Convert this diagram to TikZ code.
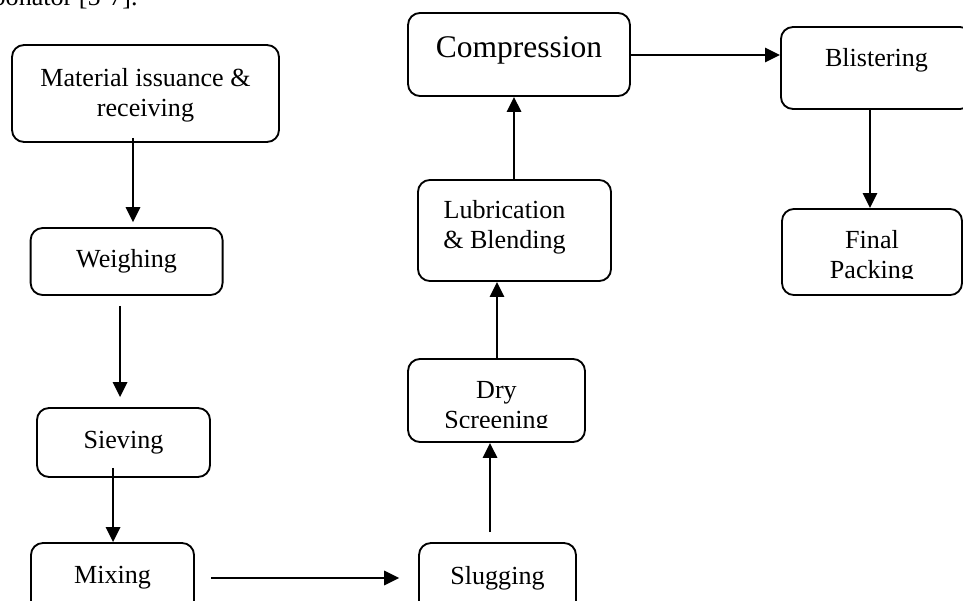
\documentclass[tikz,border=0pt]{standalone}
\usepackage{fontspec}
\setmainfont{Liberation Serif}
\usetikzlibrary{arrows.meta}
\begin{document}
\begin{tikzpicture}[x=0.46pt,y=-0.46pt,
  box/.style={draw, line width=0.85pt, rounded corners=5.5pt, inner sep=0pt, align=center, font=\fontsize{12}{13.8}\selectfont},
  lbl/.style={inner sep=0pt, align=center, font=\fontsize{12}{13.8}\selectfont},
  flow/.style={line width=1pt, -{Triangle[length=6.9pt,width=6.6pt]}}]
\useasboundingbox (0,0) rectangle (963,601);
\clip (0,0) rectangle (963,601);

% cut-off text line of the page above
\node[lbl, anchor=base east] (cut) at (138,5.5) {bonator [5-7].};

% boxes
\node[box, minimum width=122.8pt, minimum height=44.6pt] (mat) at (145.5,93.5) {};
\node[box, minimum width=88.3pt, minimum height=30.8pt] (weigh) at (126.6,261.5) {Weighing};
\node[box, minimum width=79.6pt, minimum height=31.7pt] (siev) at (123.5,442.5) {Sieving};
\node[box, minimum width=75pt, minimum height=32.2pt] (mix) at (112.5,578) {Mixing};
\node[box, minimum width=72.2pt, minimum height=32.2pt] (slug) at (497.5,578) {Slugging};
\node[box, minimum width=81.4pt, minimum height=38.2pt] (dry) at (496.5,400.5) {};
\node[box, minimum width=88.8pt, minimum height=46.5pt] (lub) at (514.5,230.5) {};
\node[box, minimum width=102.1pt, minimum height=38.2pt] (comp) at (519,54.5) {};
\node[box, minimum width=87.9pt, minimum height=37.7pt] (blis) at (876.5,68) {};
\node[box, minimum width=82.8pt, minimum height=39.6pt] (fin) at (872,252) {};

% box texts
\node[lbl] (matT) at ([yshift=-1pt]mat.center) {Material issuance \&\\receiving};
\node[lbl, font=\fontsize{14.5}{16}\selectfont] (compT) at ([yshift=1.8pt]comp.center) {Compression};
\node[lbl] (blisT) at ([yshift=3.7pt]blis.center) {Blistering};
\node[lbl] (lubT) at ([xshift=-4.6pt,yshift=1.4pt]lub.center) {Lubrication\\\& Blending};
\begin{scope}
  \clip (400,350) rectangle (600,427);
  \node[lbl] (dryT) at ([yshift=-3.5pt]dry.center) {Dry\\Screening};
\end{scope}
\begin{scope}
  \clip (770,200) rectangle (970,278);
  \node[lbl] (finT) at ([yshift=-2.3pt]fin.center) {Final\\Packing};
\end{scope}

% connectors
\draw[flow, shorten <=-2.3pt, shorten >=2.3pt] ([xshift=-5.75pt]mat.south) -- ([xshift=-5.75pt]mat.south |- weigh.north);
\draw[flow, shorten <=4.6pt, shorten >=4.6pt] ([xshift=-3pt]weigh.south) -- ([xshift=-3pt]weigh.south |- siev.north);
\draw[flow, shorten <=-4.6pt] ([xshift=-4.8pt]siev.south) -- ([xshift=-4.8pt]siev.south |- mix.north);
\draw[flow, shorten <=7.4pt, shorten >=8.7pt] (mix.east) -- (slug.west);
\draw[flow, shorten <=4.6pt] ([xshift=-3.45pt]slug.north) -- ([xshift=-3.45pt]slug.north |- dry.south);
\draw[flow] ([xshift=0.23pt]dry.north) -- ([xshift=0.23pt]dry.north |- lub.south);
\draw[flow] ([xshift=-0.23pt]lub.north) -- ([xshift=-0.23pt]lub.north |- comp.south);
\draw[flow] ([yshift=-0.23pt]comp.east) -- ([yshift=-0.23pt]comp.east -| blis.west);
\draw[flow] ([xshift=-3pt]blis.south) -- ([xshift=-3pt]blis.south |- fin.north);
\end{tikzpicture}
\end{document}
